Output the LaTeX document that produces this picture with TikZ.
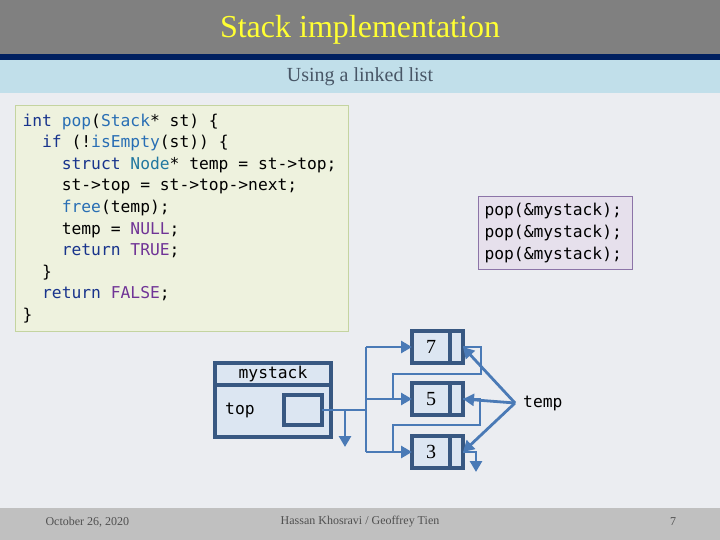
\documentclass[tikz,border=0pt]{standalone}
\usepackage{fontspec}
\setmainfont{Liberation Serif}
\newfontfamily\codefont{DejaVu Sans Mono}
\usepackage{xcolor}
\usetikzlibrary{arrows.meta, positioning}

\definecolor{bodybg}{RGB}{235,237,241}
\definecolor{titlegray}{RGB}{128,128,128}
\definecolor{titleyellow}{RGB}{255,255,51}
\definecolor{navystripe}{RGB}{0,32,96}
\definecolor{subblue}{RGB}{193,223,234}
\definecolor{subtext}{RGB}{72,86,102}
\definecolor{footgray}{RGB}{192,192,192}
\definecolor{foottext}{RGB}{80,80,80}
\definecolor{codefill}{RGB}{238,242,222}
\definecolor{codeline}{RGB}{196,212,160}
\definecolor{popfill}{RGB}{230,224,236}
\definecolor{popline}{RGB}{140,116,168}
\definecolor{structfill}{RGB}{220,230,242}
\definecolor{structline}{RGB}{56,88,130}
\definecolor{linkblue}{RGB}{74,122,182}
\definecolor{kwnavy}{RGB}{24,52,140}
\definecolor{fnblue}{RGB}{40,110,180}
\definecolor{tyteal}{RGB}{34,120,160}
\definecolor{cnpurple}{RGB}{112,52,150}

\newcommand\kw[1]{\textcolor{kwnavy}{#1}}
\newcommand\fn[1]{\textcolor{fnblue}{#1}}
\newcommand\ty[1]{\textcolor{tyteal}{#1}}
\newcommand\cn[1]{\textcolor{cnpurple}{#1}}
\newcommand\ind{\phantom{xx}}
% fixed-width spaces for the code font
\newcommand\monospaces{\spaceskip=0.602em plus 0pt minus 0pt\relax\xspaceskip=\spaceskip}

\begin{document}
\begin{tikzpicture}[
  x=1pt, y=-1pt,
  code/.style = {font=\codefont\fontsize{16.3}{21.6}\selectfont, inner sep=0pt},
  codebox/.style = {
    code, draw=codeline, fill=codefill, line width=1pt,
    align=left, text width=319pt, inner xsep=7pt,
    minimum width=333pt, minimum height=226pt,
    execute at begin node=\monospaces
  },
  popbox/.style = {
    code, draw=popline, fill=popfill, line width=1pt,
    align=left, text width=142pt, inner xsep=6pt,
    minimum width=154pt, minimum height=73pt
  },
  struct/.style = {
    draw=structline, fill=structfill, line width=3.4pt,
    inner sep=0pt, outer sep=0pt
  },
  listnode/.style = {
    struct, minimum width=38pt, minimum height=32pt,
    font=\fontsize{20}{20}\selectfont
  },
  nextcell/.style = {struct, minimum width=13pt, minimum height=32pt},
  link/.style = {line width=2.8pt, draw=linkblue},
  arr/.style = {link, -{Triangle[length=11pt, width=12pt]}},
  foot/.style = {font=\fontsize{12}{12}\selectfont, text=foottext}
]

% Slide background and bars
\useasboundingbox (0,0) rectangle (720,540);
\fill[bodybg] (0,0) rectangle (720,540);
\fill[titlegray] (0,0) rectangle (720,54);
\fill[navystripe] (0,54) rectangle (720,60);
\fill[subblue] (0,60) rectangle (720,93);
\fill[footgray] (0,508) rectangle (720,540);

\node[font=\fontsize{32}{32}\selectfont, text=titleyellow] (title) at (360,30) {Stack implementation};
\node[font=\fontsize{20}{20}\selectfont, text=subtext] (subtitle) at (360,77) {Using a linked list};

% Code of pop
\node[codebox, anchor=north west] (popcode) at (15,105) {%
\kw{int} \fn{pop}(\fn{Stack}* st) \{\\
\ind\kw{if} (!\fn{isEmpty}(st)) \{\\
\ind\ind\kw{struct} \ty{Node}* temp = st->top;\\
\ind\ind st->top = st->top->next;\\
\ind\ind\fn{free}(temp);\\
\ind\ind temp = \cn{NULL};\\
\ind\ind\kw{return} \cn{TRUE};\\
\ind\}\\
\ind\kw{return} \cn{FALSE};\\
\}};

% Calls
\node[popbox, anchor=north west] (calls) at (478,196) {%
pop(\&mystack);\\
pop(\&mystack);\\
pop(\&mystack);};

% Struct mystack
\node[struct, code, anchor=north west, minimum width=116pt, minimum height=22pt] (mshead) at (215,363) {mystack};
\node[struct, below=0pt of mshead, minimum width=116pt, minimum height=52pt] (msbody) {};
\node[code, anchor=west] (toplbl) at (225,410) {top};
\node[struct, minimum width=38pt, minimum height=30pt] (ptr) at (303,410) {};

% List nodes 7 -> 5 -> 3
\node[listnode] (n7) at (431,347) {7};
\node[nextcell, right=0pt of n7] (n7nx) {};
\node[listnode, below=20pt of n7] (n5) {5};
\node[nextcell, right=0pt of n5] (n5nx) {};
\node[listnode, below=21pt of n5] (n3) {3};
\node[nextcell, right=0pt of n3] (n3nx) {};

\node[code, anchor=west] (temp) at (523,403) {temp};

\coordinate (trunk) at (366,410);
\coordinate (branch) at (345,410);
\coordinate (nulltop) at (345,447);
\coordinate (j5) at ([xshift=-19pt]n5.west);
\coordinate (j3) at ([xshift=-19pt]n3.west);
\coordinate (tsrc) at (515,403);

% top pointer
\draw[link] (ptr.east) -- (trunk);
\draw[arr] (branch) -- (nulltop);
\draw[link] (trunk |- n7.west) -- (trunk |- n3.west);
\draw[arr] (trunk |- n7.west) -- (n7.west);
\draw[arr] (trunk |- n5.west) -- (n5.west);
\draw[arr] (trunk |- n3.west) -- (n3.west);

% next pointers
\draw[link] (n7nx.east) -| ++(18,27) -| (j5);
\draw[link] (n5nx.east) -| ++(17,26) -| (j3);
\draw[arr] (n3nx.east) -| ++(13,20);

% temp
\draw[arr] (tsrc) -- (n7nx.east);
\draw[arr] (tsrc) -- (n5nx.east);
\draw[arr] (tsrc) -- (n3nx.east);

% Footer
\node[foot, anchor=west] (date) at (42,522) {October 26, 2020};
\node[foot] (authors) at (360,522) {Hassan Khosravi / Geoffrey Tien};
\node[foot] (pageno) at (673,522) {7};
\end{tikzpicture}
\end{document}
